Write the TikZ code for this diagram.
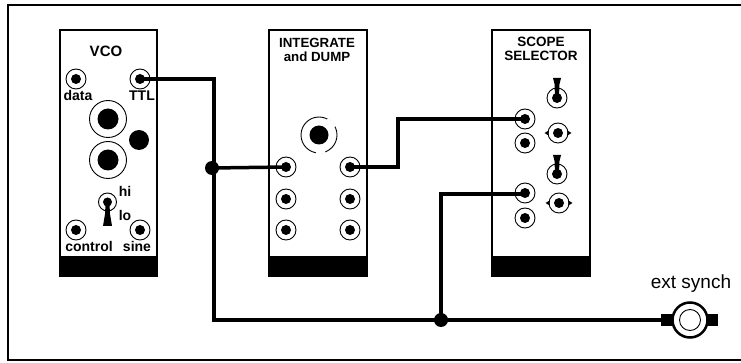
\documentclass[tikz,border=0pt]{standalone}
\usepackage{fontspec}
\setmainfont{Liberation Sans}
\newcommand{\jack}[3]{\node[jring] (#1) at (#2,#3) {}; \node[dotc=10pt] at (#1) {};}
\begin{document}
\begin{tikzpicture}[x=1pt,y=-1pt,
  panel/.style={draw=black,line width=2.5pt,fill=white},
  band/.style={fill=black},
  jring/.style={circle,draw=black,line width=0.9pt,fill=white,minimum size=20pt,inner sep=0pt},
  bigring/.style={circle,draw=black,line width=0.9pt,fill=white,minimum size=37pt,inner sep=0pt},
  dotc/.style={circle,fill=black,inner sep=0pt,minimum size=#1},
  junction/.style={circle,fill=black,inner sep=0pt,minimum size=14pt},
  wire/.style={line width=3.5pt,line join=miter},
  lab/.style={font=\fontsize{14pt}{14pt}\selectfont\bfseries,inner sep=0pt,align=center},
  title/.style={font=\fontsize{13.3pt}{14pt}\selectfont\bfseries,inner sep=0pt,align=center},
]
\useasboundingbox (0,0) rectangle (741,363);
\fill[white] (0,0) rectangle (741,363);
\draw[line width=2.5pt] (741,5) -- (8,5) -- (8,360) -- (741,360);
% panels
\draw[panel] (60,30) rectangle (157,276);
\fill[band] (60,256) rectangle (157,276);
\draw[panel] (269,30) rectangle (367,276);
\fill[band] (269,256) rectangle (367,276);
\draw[panel] (492,30) rectangle (590,276);
\fill[band] (492,256) rectangle (590,276);
% titles
\node[title,font=\fontsize{15pt}{15pt}\selectfont\bfseries] (tvco) at (106,51) {VCO};
\node[title] (tint) at (317,50) {INTEGRATE\\and DUMP};
\node[title,font=\fontsize{13.5pt}{14pt}\selectfont\bfseries] (tsc) at (541,49) {SCOPE\\SELECTOR};
% VCO
\jack{data}{76}{79}
\jack{ttl}{140}{79}
\jack{control}{76}{230}
\jack{sine}{140}{230}
\node[bigring] (big1) at (108,119) {}; \node[dotc=21pt] at (big1) {};
\node[bigring] (big2) at (108,160) {}; \node[dotc=21pt] at (big2) {};
\node[dotc=20pt] (led) at (139,140) {};
\node[jring,minimum size=18pt] (sw) at (107.5,202) {}; \node[dotc=9pt] at (sw) {};
\fill (105.5,204) -- (109.5,204) -- (110,214) -- (112,226) -- (103,226) -- (105,214) -- cycle;
% labels
\node[lab] (ldata) at (78,95) {data};
\node[lab] (lttl) at (142,96) {TTL};
\node[lab] (lhi) at (125,191) {hi};
\node[lab] (llo) at (125,215) {lo};
\node[lab] (lcontrol) at (89,246) {control};
\node[lab] (lsine) at (137,246) {sine};
% integrate
\node[circle,draw=black,line width=0.9pt,fill=white,minimum size=36pt,inner sep=0pt] (big3) at (319,135) {};
\draw[white,line width=2pt] (319,135) ++(-62:18) arc (-62:-28:18);
\draw[white,line width=2pt] (319,135) ++(70:18) arc (70:100:18);
\node[dotc=19pt] at (big3) {};
\jack{ia}{286}{167}
\jack{ib}{286}{199}
\jack{ic}{286}{230}
\jack{id}{350}{167}
\jack{ie}{350}{199}
\jack{if}{350}{230}
% scope
\jack{sa}{525}{119}
\jack{sb}{525}{143}
\jack{sc}{525}{193}
\jack{sd}{525}{218}
\node[jring] (t1) at (557,98) {}; \node[dotc=10pt] at (t1) {};
\node[jring] (t2) at (557,174) {}; \node[dotc=10pt] at (t2) {};
\fill (555,97) -- (559,97) -- (559.5,84) -- (561,78) -- (553,78) -- (554.5,84) -- cycle;
\fill (555,173) -- (559,173) -- (559.5,161) -- (561,155) -- (553,155) -- (554.5,161) -- cycle;
\node[jring] (b1) at (558,133) {}; \node[dotc=10pt] at (b1) {};
\node[jring] (b2) at (559,203) {}; \node[dotc=10pt] at (b2) {};
\foreach \n in {b1,b2}{
  \fill (\n.west) ++(1,-2.5) -- ++(-4,2.5) -- ++(4,2.5) -- cycle;
  \fill (\n.east) ++(-1,-2.5) -- ++(4,2.5) -- ++(-4,2.5) -- cycle;
}
% ext synch
\coordinate (ec) at (690,320);
\fill (661,314) rectangle (718,326);
\node[circle,draw=black,line width=2.5pt,fill=white,minimum size=35pt,inner sep=0pt] (ext) at (ec) {};
\node[circle,draw=black,line width=0.9pt,fill=white,minimum size=21pt,inner sep=0pt] (exti) at (ec) {};
\node[inner sep=0pt,font=\fontsize{19pt}{19pt}\selectfont] (lext) at (691,284) {ext synch};
% wires
\node[junction] (j1) at (212,168) {};
\node[junction] (j2) at (441,320) {};
\draw[wire] (ttl.center) -- (214,79) -- (214,320) -- (j2.center) -- (668,320);
\draw[wire] (j1.center) -- (ia.center);
\draw[wire] (id.center) -- (398,167) -- (398,119) -- (sa.center);
\draw[wire] (j2.center) -- (441,194) -- (525,194);
\end{tikzpicture}
\end{document}
